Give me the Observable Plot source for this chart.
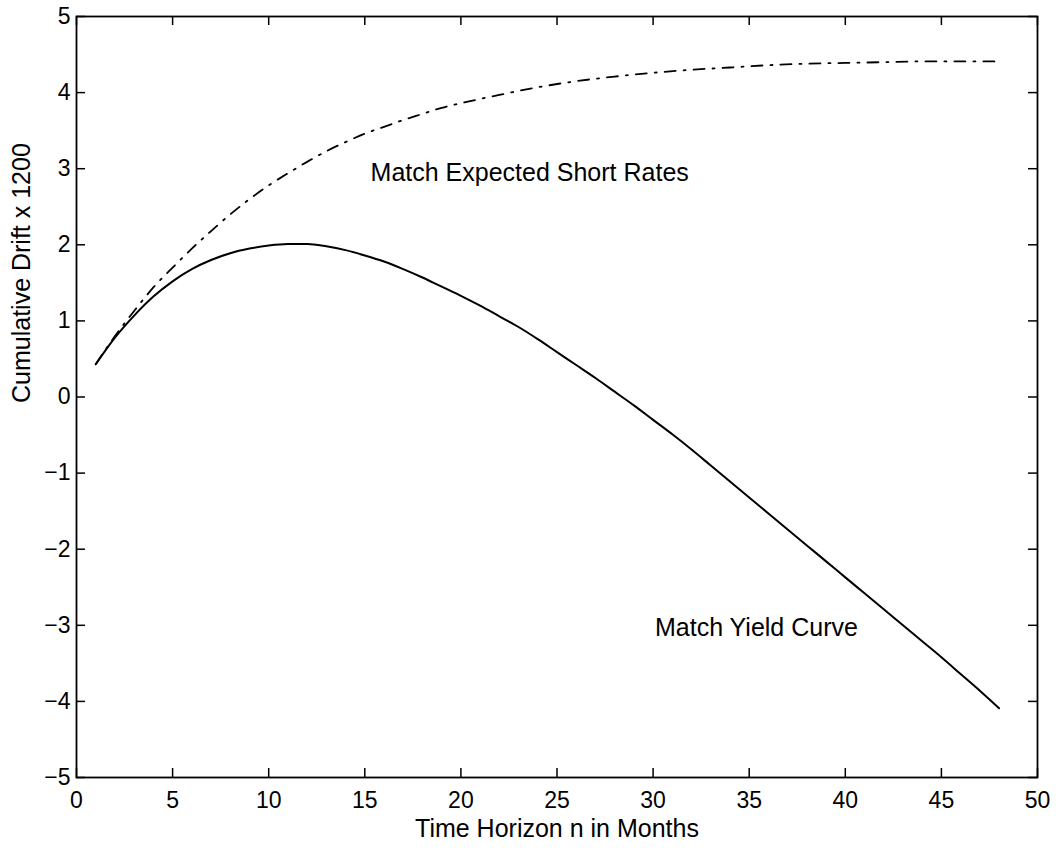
<!DOCTYPE html>
<html>
<head>
<meta charset="utf-8">
<script src="https://cdn.jsdelivr.net/npm/d3@7"></script>
<script src="https://cdn.jsdelivr.net/npm/@observablehq/plot@0.6"></script>
<style>
  html, body { margin: 0; padding: 0; background: #fff; }
  #chart { width: 1060px; height: 850px; }
</style>
</head>
<body>
<div id="chart"></div>
<script>
// ---- data ----
const months = [1,2,3,4,5,6,7,8,9,10,11,12,13,14,15,16,17,18,19,20,21,22,23,24,25,26,27,28,29,30,31,32,33,34,35,36,37,38,39,40,41,42,43,44,45,46,47,48];
const yieldCurveDrift = [0.43,0.78,1.07,1.32,1.52,1.68,1.80,1.89,1.95,1.99,2.01,2.01,1.98,1.93,1.86,1.78,1.68,1.57,1.45,1.33,1.20,1.06,0.92,0.76,0.59,0.42,0.25,0.07,-0.11,-0.30,-0.49,-0.69,-0.90,-1.11,-1.32,-1.53,-1.74,-1.95,-2.16,-2.37,-2.58,-2.79,-3.00,-3.21,-3.42,-3.64,-3.86,-4.09];
const shortRateMonths = [1,2,3,4,5,6,7,8,9,10,11,12,13,14,15,16,17,18,19,20,22,24,26,28,30,32,34,36,38,40,42,44,46,48];
const shortRateDrift = [0.43,0.80,1.13,1.44,1.70,1.95,2.18,2.40,2.60,2.78,2.94,3.09,3.23,3.35,3.46,3.55,3.64,3.72,3.80,3.86,3.97,4.07,4.15,4.21,4.26,4.30,4.33,4.36,4.38,4.39,4.40,4.41,4.41,4.41];
const xTicks = [0,5,10,15,20,25,30,35,40,45,50];
const yTicks = [-5,-4,-3,-2,-1,0,1,2,3,4,5];
const xLabel = ["Time Horizon n in Months"];
const yLabel = ["Cumulative Drift x 1200"];
const annotations = [
  {x: 15.3, y: 2.95, label: "Match Expected Short Rates"},
  {x: 30.1, y: -3.03, label: "Match Yield Curve"}
];

const yieldRows = months.map((m, i) => ({x: m, y: yieldCurveDrift[i]}));
const shortRows = shortRateMonths.map((m, i) => ({x: m, y: shortRateDrift[i]}));

// ---- layout ----
const W = 1060, H = 850;
const mTop = 16, mBottom = 73, mLeft = 76, mRight = 23;
const frameW = W - mLeft - mRight, frameH = H - mTop - mBottom;
const tick = 9;
const font = "'Liberation Sans', Arial, Helvetica, sans-serif";
const fmt = d => (d < 0 ? "\u2212" + Math.abs(d) : String(d));

const chart = Plot.plot({
  width: W,
  height: H,
  marginTop: mTop,
  marginBottom: mBottom,
  marginLeft: mLeft,
  marginRight: mRight,
  style: {fontFamily: font, background: "#fff", color: "#000", overflow: "visible"},
  x: {domain: [0, 50], nice: false},
  y: {domain: [-5, 5], nice: false},
  marks: [
    // inward tick marks on all four sides
    Plot.gridX(xTicks, {stroke: "#000", strokeOpacity: 1, strokeWidth: 1.5, insetTop: frameH - tick}),
    Plot.gridX(xTicks, {stroke: "#000", strokeOpacity: 1, strokeWidth: 1.5, insetBottom: frameH - tick}),
    Plot.gridY(yTicks, {stroke: "#000", strokeOpacity: 1, strokeWidth: 1.5, insetRight: frameW - tick}),
    Plot.gridY(yTicks, {stroke: "#000", strokeOpacity: 1, strokeWidth: 1.5, insetLeft: frameW - tick}),
    Plot.axisX(xTicks, {anchor: "bottom", tickSize: 0, tickPadding: 14, fontSize: 23, label: null, fill: "#000", tickFormat: fmt}),
    Plot.axisY(yTicks, {anchor: "left", tickSize: 0, tickPadding: 6, fontSize: 23, label: null, fill: "#000", tickFormat: fmt}),
    Plot.frame({stroke: "#000", strokeWidth: 1.8}),
    Plot.line(shortRows, {x: "x", y: "y", stroke: "#000", strokeWidth: 1.8, strokeDasharray: "11,8,2,8", curve: "monotone-x"}),
    Plot.line(yieldRows, {x: "x", y: "y", stroke: "#000", strokeWidth: 2, curve: "monotone-x"}),
    Plot.text(annotations, {x: "x", y: "y", text: "label", textAnchor: "start", fontSize: 25, fill: "#000"}),
    Plot.text(xLabel, {text: d => d, frameAnchor: "bottom", dy: 59, fontSize: 25, fill: "#000"}),
    Plot.text(yLabel, {text: d => d, frameAnchor: "left", dx: -55, dy: 6, rotate: -90, fontSize: 25, fill: "#000"})
  ]
});

document.getElementById("chart").appendChild(chart);
</script>
</body>
</html>
